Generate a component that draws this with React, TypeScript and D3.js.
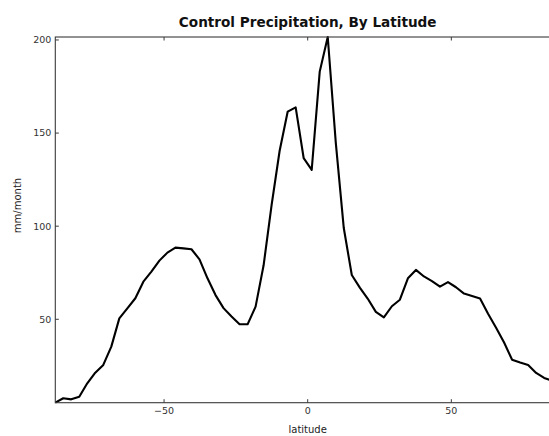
import React from "react";
import * as d3 from "d3";

const northLat = [
  87.864, 85.097, 82.313, 79.526, 76.737, 73.948, 71.158, 68.368, 65.578, 62.787,
  59.997, 57.207, 54.416, 51.626, 48.835, 46.045, 43.254, 40.464, 37.673, 34.883,
  32.092, 29.301, 26.511, 23.72, 20.93, 18.139, 15.348, 12.558, 9.767, 6.977,
  4.186, 1.395,
];
const latitudes = [...northLat.map((d) => -d), ...northLat.slice().reverse()];

const precipitation = [
  5.2, 7.6, 7.0, 8.4, 15.6, 21.3, 25.5, 35.3, 50.5, 55.9,
  61.3, 70.2, 75.6, 81.5, 85.8, 88.5, 88.1, 87.6, 82.2, 72.0,
  63.0, 56.0, 51.5, 47.3, 47.3, 56.8, 79.0, 111.5, 140.5, 161.5,
  163.8, 136.5, 130.2, 183.0, 201.6, 145.0, 99.0, 73.8, 67.0, 61.0,
  54.0, 51.0, 57.0, 60.5, 72.0, 76.5, 73.0, 70.5, 67.5, 70.0,
  67.2, 63.8, 62.5, 61.2, 53.0, 45.5, 37.5, 28.3, 26.8, 25.5,
  21.2, 18.5, 17.0, 15.0,
];

const xTicks = [-50, 0, 50];
const yTicks = [50, 100, 150, 200];
const title = "Control Precipitation, By Latitude";
const xLabel = "latitude";
const yLabel = "mm/month";

const W = 549;
const H = 436;
const left = 55.3;
const right = 560.1;
const top = 37;
const bottom = 402.7;

export default function App() {
  const x = d3.scaleLinear().domain(d3.extent(latitudes) as [number, number]).range([left, right]);
  const y = d3.scaleLinear().domain(d3.extent(precipitation) as [number, number]).range([bottom, top]);
  const line = d3
    .line<number>()
    .x((_, i) => x(latitudes[i]))
    .y((d) => y(d));
  const font = "'DejaVu Sans', sans-serif";
  const tickLen = 3.5;
  const frame = "#3a3a3a";
  const fmt = (v: number) => (v < 0 ? "\u2212" + Math.abs(v) : String(v));
  return (
    <svg
      width={W}
      height={H}
      style={{ position: "absolute", left: 0, top: 0, background: "#fff" }}
    >
      <rect x={0} y={0} width={W} height={H} fill="#fff" />
      <path d={line(precipitation) || ""} fill="none" stroke="#000" strokeWidth={2.1} strokeLinejoin="round" />
      <rect x={left} y={top} width={right - left} height={bottom - top} fill="none" stroke={frame} strokeWidth={1.1} />
      {xTicks.map((t) => (
        <g key={"x" + t}>
          <line x1={x(t)} x2={x(t)} y1={bottom} y2={bottom - tickLen} stroke={frame} strokeWidth={1} />
          <line x1={x(t)} x2={x(t)} y1={top} y2={top + tickLen} stroke={frame} strokeWidth={1} />
          <text x={x(t)} y={bottom + 11} textAnchor="middle" fontFamily={font} fontSize={9.5} fill="#333">
            {fmt(t)}
          </text>
        </g>
      ))}
      {yTicks.map((t) => (
        <g key={"y" + t}>
          <line x1={left} x2={left + tickLen} y1={y(t)} y2={y(t)} stroke={frame} strokeWidth={1} />
          <text x={left - 4} y={y(t)} dy="0.35em" textAnchor="end" fontFamily={font} fontSize={9.5} fill="#333">
            {fmt(t)}
          </text>
        </g>
      ))}
      <text x={(left + right) / 2} y={27} textAnchor="middle" fontFamily={font} fontSize={13.6} fontWeight="bold" fill="#111">
        {title}
      </text>
      <text x={(left + right) / 2} y={433} textAnchor="middle" fontFamily={font} fontSize={10} fill="#222">
        {xLabel}
      </text>
      <text
        transform={`translate(21,205.5) rotate(-90)`}
        textAnchor="middle"
        fontFamily={font}
        fontSize={10}
        fill="#222"
      >
        {yLabel}
      </text>
    </svg>
  );
}
